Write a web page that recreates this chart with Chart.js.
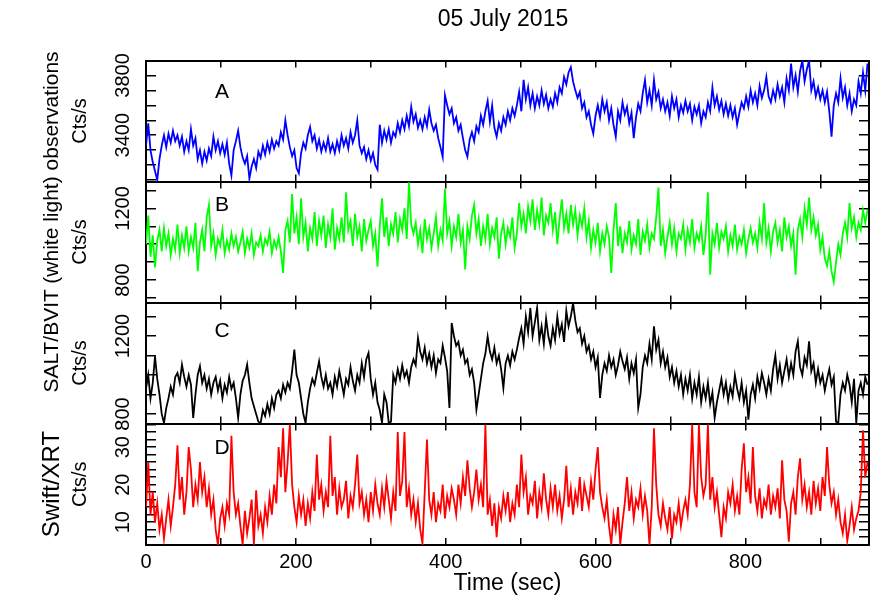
<!DOCTYPE html>
<html>
<head>
<meta charset="utf-8">
<script src="https://cdn.jsdelivr.net/npm/chart.js@4.4.0/dist/chart.umd.min.js"></script>
<style>
  body { margin: 0; background: #fff; }
  #wrap { position: relative; width: 872px; height: 599px; font-family: "Liberation Sans", Arial, sans-serif; }
  canvas { position: absolute; left: 0; top: 0; }
  .txt { position: absolute; color: #000; white-space: nowrap; transform: translate(-50%, -50%); }
  .rot { transform: translate(-50%, -50%) rotate(-90deg); }
</style>
</head>
<body>
<div id="wrap">
  <canvas id="pA" width="872" height="599"></canvas>
  <canvas id="pB" width="872" height="599"></canvas>
  <canvas id="pC" width="872" height="599"></canvas>
  <canvas id="pD" width="872" height="599"></canvas>
  <div class="txt" style="left:503px; top:18px; font-size:23px;">05 July 2015</div>
  <div class="txt rot" style="left:51px; top:222px; font-size:21px;">SALT/BVIT (white light) observations</div>
  <div class="txt rot" style="left:51px; top:484px; font-size:24px;">Swift/XRT</div>
  <div class="txt" style="left:222px; top:91px; font-size:21px;">A</div>
  <div class="txt" style="left:222px; top:204px; font-size:21px;">B</div>
  <div class="txt" style="left:222px; top:330px; font-size:21px;">C</div>
  <div class="txt" style="left:222px; top:447px; font-size:21px;">D</div>
</div>
<script>
// light curves in 3 s bins, starting at t = 0
const BIN = 3;

// A: SALT/BVIT, top panel (blue)
const ctsA = [
  3330, 3480, 3300, 3220, 3160, 3100, 3240, 3330, 3400, 3320, 3410, 3350, 3430, 3360, 3400, 3330, 3390, 3290, 3360, 3300,
  3440, 3330, 3380, 3240, 3300, 3210, 3290, 3230, 3310, 3260, 3390, 3300, 3360, 3280, 3340, 3270, 3350, 3210, 3130, 3300,
  3360, 3430, 3320, 3250, 3210, 3260, 3110, 3190, 3240, 3180, 3290, 3250, 3330, 3270, 3350, 3290, 3370, 3310, 3360, 3330,
  3420, 3370, 3500, 3400, 3320, 3260, 3300, 3180, 3145, 3280, 3350, 3310, 3400, 3455, 3360, 3400, 3310, 3370, 3290, 3350,
  3300, 3380, 3290, 3340, 3280, 3360, 3300, 3400, 3330, 3380, 3310, 3420, 3350, 3400, 3500, 3330, 3280, 3320, 3240, 3300,
  3230, 3280, 3200, 3170, 3470, 3350, 3430, 3370, 3440, 3350, 3420, 3390, 3480, 3420, 3500, 3440, 3530, 3460, 3590, 3490,
  3540, 3450, 3500, 3440, 3520, 3460, 3570, 3480, 3430, 3470, 3380, 3320, 3255, 3667, 3600, 3540, 3580, 3480, 3520, 3430,
  3470, 3380, 3300, 3255, 3370, 3420, 3360, 3460, 3420, 3530, 3470, 3560, 3630, 3490, 3600, 3450, 3390, 3480, 3430, 3520,
  3470, 3560, 3500, 3580, 3530, 3600, 3690, 3560, 3770, 3640, 3720, 3600, 3680, 3580, 3660, 3600, 3700, 3610, 3670, 3580,
  3640, 3590, 3680, 3620, 3720, 3680, 3790, 3740, 3820, 3855, 3760, 3700, 3650, 3690, 3580, 3620, 3520, 3560, 3470, 3410,
  3530, 3600, 3520, 3640, 3560, 3620, 3500, 3580, 3470, 3390, 3560, 3500, 3620, 3540, 3590, 3480, 3550, 3380, 3520, 3610,
  3560, 3680, 3770, 3620, 3700, 3600, 3770, 3640, 3690, 3580, 3640, 3560, 3620, 3530, 3660, 3580, 3640, 3520, 3600, 3550,
  3630, 3560, 3610, 3500, 3590, 3540, 3600, 3480, 3560, 3520, 3620, 3560, 3720, 3600, 3660, 3570, 3630, 3540, 3610, 3530,
  3600, 3520, 3580, 3470, 3550, 3620, 3580, 3660, 3590, 3700, 3620, 3680, 3600, 3730, 3650, 3700, 3790, 3660, 3620, 3700,
  3640, 3740, 3660, 3720, 3620, 3780, 3700, 3880, 3720, 3800, 3690, 3830, 3900, 3760, 3840, 3900, 3700, 3760, 3660, 3720,
  3640, 3700, 3620, 3690, 3560, 3390, 3600, 3680, 3620, 3780, 3650, 3720, 3600, 3680, 3560, 3640, 3600, 3760, 3680, 3820,
  3700, 3880
];

// B: SALT/BVIT (green)
const ctsB = [
  1000, 1160, 930, 1050, 870, 1020, 1080, 960, 1090, 990, 1060, 940, 1030, 970, 1110, 950, 1050, 980, 1100, 960,
  1040, 980, 1120, 850, 1010, 1080, 960, 1150, 1220, 990, 1060, 940, 1030, 990, 1080, 950, 1020, 970, 1060, 990,
  1040, 960, 1010, 1070, 950, 1030, 980, 1060, 940, 1010, 990, 1050, 960, 1030, 1000, 1070, 950, 1020, 980, 1040,
  960, 840, 1080, 1130, 1010, 1280, 1060, 1150, 1000, 1256, 1040, 1120, 960, 1090, 1030, 1180, 990, 1130, 1050, 1160,
  980, 1110, 1040, 1200, 970, 1090, 1030, 1150, 1010, 1290, 1080, 1130, 990, 1170, 1040, 1100, 960, 1140, 1020, 1080,
  1130, 990, 1060, 875, 1100, 1256, 1040, 1150, 990, 1110, 1060, 1180, 1010, 1140, 1080, 1200, 1030, 1345, 1110, 1060,
  1120, 1000, 1080, 950, 1140, 1030, 1090, 980, 1060, 1150, 990, 1080, 1020, 1310, 1060, 1130, 990, 1100, 1040, 1170,
  1010, 1080, 860, 1100, 1030, 1160, 1219, 1060, 1140, 990, 1100, 1030, 1170, 1000, 1090, 1040, 1150, 920, 1060, 1120,
  1000, 1090, 1040, 1150, 980, 1060, 1230, 1100, 1170, 1060, 1210, 1130, 1250, 1080, 1190, 1110, 1260, 1050, 1160, 1120,
  1230, 1080, 1180, 1000, 1140, 1250, 1090, 1170, 1060, 1220, 1110, 1190, 1050, 1160, 1100, 1200, 1040, 1130, 980, 1080,
  1010, 1120, 960, 1060, 1000, 1100, 1040, 840, 1080, 1230, 990, 1100, 950, 1060, 1010, 1130, 970, 1050, 1000, 1140,
  940, 1070, 1020, 1110, 980, 1060, 1030, 1150, 1317, 990, 1080, 950, 1040, 1120, 1000, 1090, 960, 1060, 1030, 1110,
  970, 1080, 1010, 1140, 980, 1060, 1020, 1100, 940, 1050, 1290, 830, 1060, 1000, 1120, 980, 1070, 1030, 1100, 960,
  1050, 990, 1110, 970, 1040, 1000, 1080, 950, 1030, 1090, 1010, 1060, 980, 1120, 1030, 1230, 1010, 1090, 960, 1070,
  1120, 1010, 1080, 960, 1150, 1040, 1100, 990, 1060, 830, 1080, 1140, 1040, 1200, 1110, 1260, 1080, 1150, 1050, 1110,
  970, 1040, 920, 880, 960, 850, 790, 900, 1000, 940, 1060, 1120, 1040, 1230, 1090, 1150, 1040, 1120, 1080, 1190,
  1120, 1190
];

// C: SALT/BVIT (black)
const ctsC = [
  930, 1000, 880, 960, 1096, 980, 900, 800, 754, 830, 880, 940, 900, 990, 1010, 960, 1053, 990, 940, 1000,
  950, 780, 900, 1000, 1045, 960, 1000, 930, 980, 900, 960, 990, 920, 970, 880, 950, 910, 990, 930, 960,
  880, 780, 900, 970, 1000, 1053, 960, 880, 840, 800, 760, 754, 820, 790, 850, 800, 880, 830, 900, 920,
  880, 950, 910, 960, 930, 1020, 1130, 1000, 960, 880, 800, 754, 860, 930, 980, 950, 1010, 1070, 990, 940,
  1000, 930, 960, 900, 990, 940, 1020, 960, 900, 980, 950, 1040, 970, 920, 1000, 960, 1060, 990, 1080, 1113,
  980, 900, 960, 860, 820, 754, 900, 860, 754, 760, 1000, 960, 1030, 980, 1050, 990, 1020, 960, 1040, 1080,
  1050, 1190, 1120, 1080, 1140, 1060, 1110, 1040, 1100, 1010, 1080, 1060, 1150, 1090, 1020, 831, 1267, 1200, 1150, 1170,
  1100, 1130, 1060, 1080, 1000, 1030, 960, 822, 900, 980, 1060, 1110, 1198, 1120, 1080, 1140, 1060, 1100, 1030, 933,
  1060, 1100, 1050, 1120, 1080, 1130, 1190, 1240, 1160, 1300, 1220, 1344, 1200, 1270, 1344, 1180, 1250, 1160, 1290, 1200,
  1150, 1240, 1180, 1300, 1210, 1260, 1170, 1330, 1250, 1300, 1369, 1280, 1220, 1240, 1160, 1200, 1120, 1150, 1080, 1120,
  1040, 1090, 882, 1000, 1060, 1020, 1100, 1040, 1080, 1000, 1050, 1120, 1070, 1030, 1090, 980, 1060, 1010, 1080, 831,
  900, 1040, 1100, 1060, 1160, 1080, 1250, 1130, 1180, 1060, 1120, 1040, 1090, 990, 1040, 960, 1020, 940, 1000, 900,
  980, 920, 1000, 880, 960, 900, 990, 860, 940, 880, 960, 850, 910, 780, 860, 920, 980, 900, 960, 870,
  940, 890, 1000, 930, 880, 960, 860, 920, 771, 900, 950, 880, 990, 930, 1010, 960, 900, 980, 920, 1030,
  1100, 980, 1050, 960, 1020, 1080, 990, 1060, 1000, 1120, 1173, 1040, 1000, 1090, 1050, 1173, 1020, 1060, 960, 1030,
  960, 1000, 920, 980, 1030, 950, 990, 760, 754, 900, 960, 920, 1000, 950, 860, 980, 754, 920, 960, 900,
  990, 950
];

// D: Swift/XRT (red)
const ctsD = [
  14, 26, 12, 18, 10, 15, 8, 12, 5.6, 11, 16, 9, 14, 20, 30.5, 16, 22, 12, 18, 30,
  24, 14, 20, 16, 26, 18, 22, 14, 19, 12, 16, 8, 3.9, 11, 14, 9, 15, 12, 33, 18,
  12, 15, 9, 4, 13, 7, 11, 16, 4, 18.5, 9, 12, 7, 14, 10, 17, 12, 20, 15, 30,
  22, 35, 18, 26, 36, 20, 14, 10, 17, 12, 16, 9, 15, 11, 18, 13, 28, 16, 20, 13,
  18, 14, 33, 17, 22, 12, 19, 14, 16, 21, 11, 17, 14, 20, 28, 15, 18, 12, 16, 10,
  18, 13, 20, 15, 12, 19, 14, 21, 16, 11, 18, 13, 34, 17, 21, 34, 14, 19, 12, 16,
  10, 15, 8, 4.3, 18, 32, 16, 12, 18, 10, 15, 13, 20, 11, 17, 14, 19, 16, 12, 20,
  15, 22, 17, 26.5, 19, 14, 18, 24, 16, 20, 14, 36, 12, 16, 9, 15, 6, 14, 11, 17,
  13, 18, 10, 15, 12, 20, 14, 28, 18, 22, 12, 17, 15, 21, 11, 18, 14, 23, 16, 12,
  19, 14, 20, 13, 17, 11, 16, 25, 14, 19, 12, 18, 15, 22, 13, 20, 17, 14, 21, 16,
  24, 30, 18, 14, 11, 16, 9, 4, 12, 8, 14, 4, 10, 15, 22, 13, 18, 11, 16, 14,
  19, 12, 17, 13, 4, 14, 35, 20, 12, 9, 15, 11, 8, 14, 5.6, 12, 10, 15, 9, 13,
  16, 12, 20, 36, 18, 14, 36, 22, 17, 20, 36, 16, 22, 14, 18, 12, 6, 14, 11, 18,
  15, 20, 13, 17, 12, 24, 31, 18, 22, 15, 30, 17, 13, 19, 11, 16, 14, 20, 12, 17,
  14, 19, 11, 26.5, 16, 13, 4.8, 15, 18, 12, 22, 27, 16, 20, 14, 18, 12, 21, 15, 19,
  13, 22, 17, 30, 20, 15, 18, 12, 16, 10, 7, 12, 5, 9, 14, 8, 11, 13, 18, 34.5,
  22, 26
];

const timeSec = ctsA.map((_, i) => i * BIN);

const xTickLabels = [0, 200, 400, 600, 800];
const yTickLabelsA = [3400, 3800];
const yTickLabelsB = [800, 1200];
const yTickLabelsC = [800, 1200];
const yTickLabelsD = [10, 20, 30];

const FONT = "'Liberation Sans', Arial, sans-serif";

// tick marks every `step`, placed on round values only
function stepTicks(step) {
  return s => {
    const out = [];
    for (let v = Math.ceil(s.min / step) * step; v <= s.max + 1e-9; v += step) {
      out.push({ value: Math.round(v * 1000) / 1000 });
    }
    s.ticks = out;
  };
}

// rotated y tick labels, centred on their tick
const yLabelPlugin = {
  id: 'yLabels',
  afterDraw(chart, args, opts) {
    const s = chart.scales.y;
    const ctx = chart.ctx;
    ctx.save();
    ctx.fillStyle = '#000';
    ctx.font = '20px ' + FONT;
    ctx.textAlign = 'center';
    ctx.textBaseline = 'middle';
    opts.values.forEach(v => {
      ctx.save();
      ctx.translate(123, s.getPixelForValue(v));
      ctx.rotate(-Math.PI / 2);
      ctx.fillText(String(v), 0, 0);
      ctx.restore();
    });
    ctx.restore();
  }
};

function panel(id, vals, color, yMin, yMax, yStep, yLabels, top, bottom, isBottom) {
  const xH = isBottom ? 52 : 0;
  const tickGrid = len => ({ drawOnChartArea: false, tickLength: len, color: '#000', lineWidth: 1.5 });
  const border = { display: true, color: '#000', width: 2 };
  return new Chart(document.getElementById(id), {
    type: 'line',
    data: {
      datasets: [{
        data: timeSec.map((t, i) => ({ x: t, y: vals[i] })),
        borderColor: color,
        borderWidth: 1.8,
        pointRadius: 0,
        tension: 0,
        fill: false
      }]
    },
    plugins: [yLabelPlugin],
    options: {
      responsive: false,
      animation: false,
      events: [],
      layout: { padding: { left: 68, right: 3, top: top, bottom: 599 - bottom - xH } },
      plugins: {
        legend: { display: false },
        tooltip: { enabled: false },
        yLabels: { values: yLabels }
      },
      scales: {
        x: {
          type: 'linear', position: 'bottom', min: 0, max: 965,
          afterFit: s => { s.height = xH; },
          afterBuildTicks: stepTicks(100),
          ticks: {
            autoSkip: false, maxRotation: 0,
            padding: 12, color: '#000', font: { family: FONT, size: 20 },
            callback: v => (isBottom && xTickLabels.includes(v)) ? v : ''
          },
          grid: tickGrid(-7), border: border,
          title: { display: isBottom, text: 'Time (sec)', color: '#000', font: { family: FONT, size: 23 }, padding: 0 }
        },
        xTop: {
          type: 'linear', position: 'top', min: 0, max: 965,
          afterFit: s => { s.height = 0; },
          afterBuildTicks: stepTicks(100),
          ticks: { autoSkip: false, callback: () => '' },
          grid: tickGrid(-7), border: border
        },
        y: {
          type: 'linear', position: 'left', min: yMin, max: yMax,
          afterFit: s => { s.width = 78; },
          afterBuildTicks: stepTicks(yStep),
          ticks: { autoSkip: false, callback: () => '' },
          grid: tickGrid(-10), border: border,
          title: { display: true, text: 'Cts/s', color: '#000', font: { family: FONT, size: 20 }, padding: 0 }
        },
        yRight: {
          type: 'linear', position: 'right', min: yMin, max: yMax,
          afterFit: s => { s.width = 0; },
          afterBuildTicks: stepTicks(yStep),
          ticks: { autoSkip: false, callback: () => '' },
          grid: tickGrid(-10), border: border
        }
      }
    }
  });
}

panel('pA', ctsA, '#0000ff', 3090, 3900, 100, yTickLabelsA, 60.5, 181.5, false);
panel('pB', ctsB, '#00ff00', 675, 1350, 100, yTickLabelsB, 181.5, 302.5, false);
panel('pC', ctsC, '#000000', 751, 1372, 100, yTickLabelsC, 302.5, 423.5, false);
panel('pD', ctsD, '#ff0000', 3.9, 36.3, 2, yTickLabelsD, 423.5, 545, true);
</script>
</body>
</html>
